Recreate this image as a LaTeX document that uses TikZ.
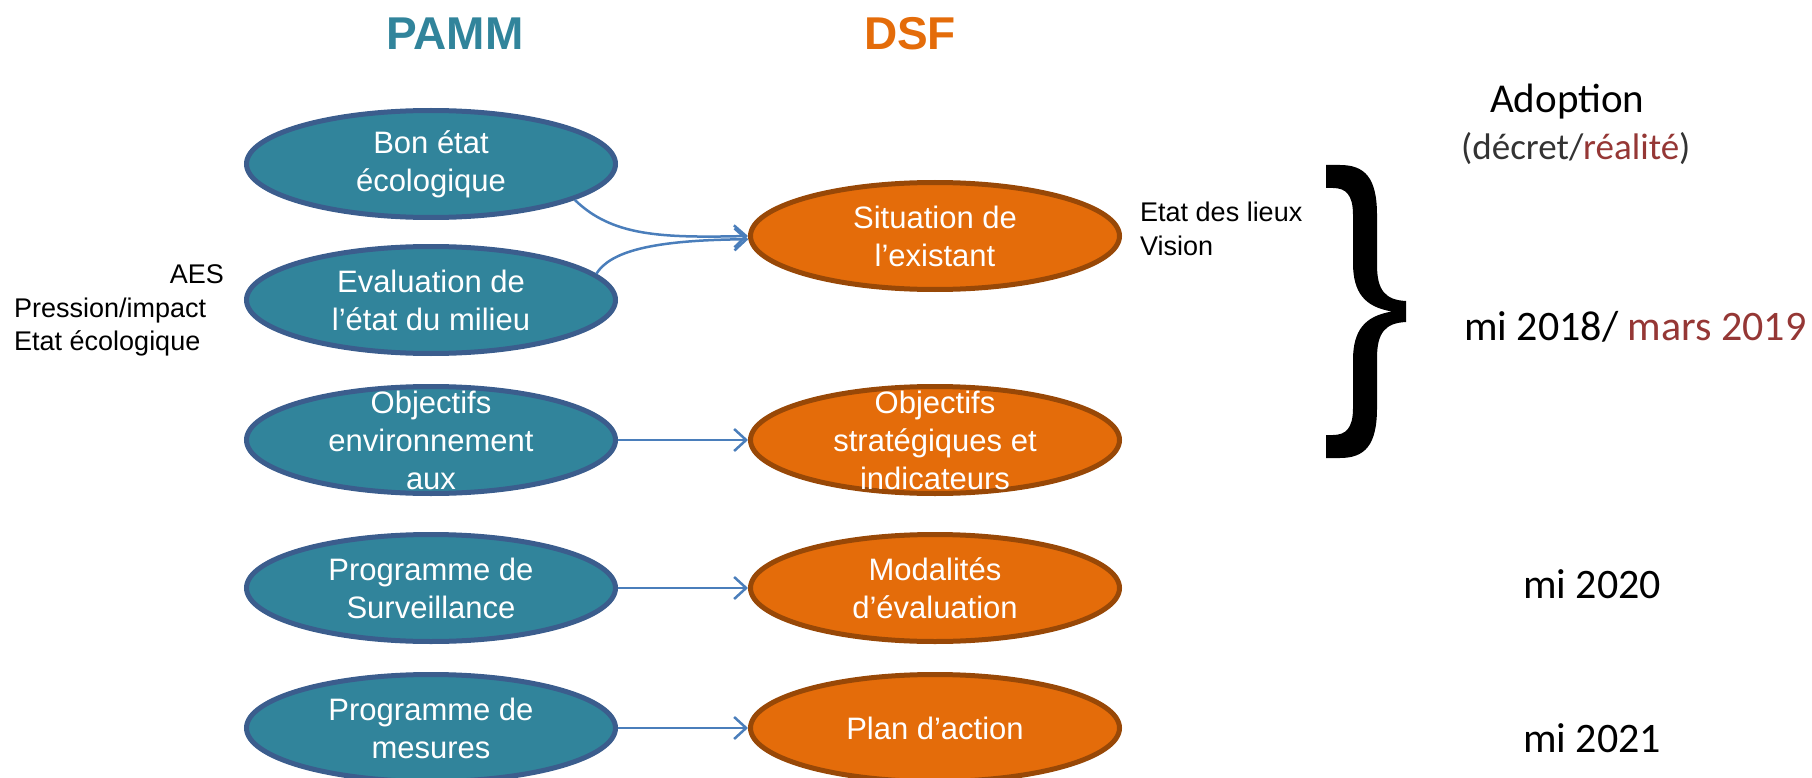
\documentclass[tikz,border=0pt]{standalone}
\usepackage{fontspec}
\setmainfont{Liberation Sans}
\newfontfamily\calib{Carlito}
\usetikzlibrary{arrows.meta,shapes.geometric}
\definecolor{teal1}{HTML}{31849B}
\definecolor{tealb}{HTML}{3B5D8D}
\definecolor{orng}{HTML}{E46C0A}
\definecolor{orngb}{HTML}{984807}
\definecolor{arr}{HTML}{4A7EBB}
\definecolor{dred}{HTML}{953735}
\begin{document}
\begin{tikzpicture}[x=1pt,y=-1pt,
 pamm/.style={ellipse, draw=tealb, fill=teal1, line width=5pt, minimum width=369pt, minimum height=107pt, inner sep=0pt},
 dsf/.style={ellipse, draw=orngb, fill=orng, line width=5pt, minimum width=369pt, minimum height=107pt, inner sep=0pt},
 etxt/.style={text=white, align=center, font=\fontsize{31}{38}\selectfont, inner sep=0pt},
 conn/.style={draw=arr, line width=2.5pt, -{Straight Barb[length=12pt,width=22pt]}},
 side/.style={font=\fontsize{27}{33}\selectfont, inner sep=0pt},
 cal/.style={font=\calib\fontsize{42}{50}\selectfont, inner sep=0pt},
 ttl/.style={font=\bfseries\fontsize{46}{50}\selectfont, inner sep=0pt}]
\useasboundingbox (0,0) rectangle (1812,778);
\clip (0,0) rectangle (1812,778);

% titles
\node[ttl, text=teal1, anchor=base] (tpamm) at (455,50) {PAMM};
\node[ttl, text=orng, anchor=base] (tdsf) at (910,50) {DSF};

% PAMM ellipses
\node[pamm, label={[etxt]center:{Bon état\\écologique}}] (bon) at (431,164) {};
\node[pamm, label={[etxt]center:{Evaluation de\\l’état du milieu}}] (eval) at (431,300) {};
\node[pamm, label={[etxt]center:{Objectifs\\environnement\\aux}}] (obj) at (431,440) {};
\node[pamm, label={[etxt]center:{Programme de\\Surveillance}}] (surv) at (431,588) {};
\node[pamm, label={[etxt]center:{Programme de\\mesures}}] (mes) at (431,728) {};

% DSF ellipses
\node[dsf, label={[etxt]center:{Situation de\\l’existant}}] (sit) at (935,236) {};
\node[dsf, label={[etxt]center:{Objectifs\\stratégiques et\\indicateurs}}] (strat) at (935,440) {};
\node[dsf, label={[etxt]center:{Modalités\\d’évaluation}}] (moda) at (935,588) {};
\node[dsf, label={[etxt]center:{Plan d’action}}] (plan) at (935,728) {};

% connectors
\draw[conn] (bon.-14) .. controls (612,236) and (660,238) .. (sit.west);
\draw[conn] (eval.9) .. controls (610,252) and (650,240) .. (sit.181.5);
\draw[conn] (obj.east) -- (strat.west);
\draw[conn] (surv.east) -- (moda.west);
\draw[conn] (mes.east) -- (plan.west);

% side texts
\node[side, anchor=base east] (aes) at (224,283) {AES};
\node[side, anchor=base west] (press) at (14,317) {Pression/impact};
\node[side, anchor=base west] (etat) at (14,350) {Etat écologique};
\node[side, anchor=base west] (edl) at (1140,222) {Etat des lieux};
\node[side, anchor=base west] (vis) at (1140,255) {Vision};

% brace
\fill[black] (1326,165) -- (1340,165) .. controls (1365,165) and (1377,178) .. (1377,215) -- (1377,265) .. controls (1377,290) and (1385,300) .. (1406,301) -- (1406,322) .. controls (1385,323) and (1377,333) .. (1377,358) -- (1377,408) .. controls (1377,445) and (1365,458) .. (1340,458) -- (1326,458) -- (1326,435) -- (1333,435) .. controls (1346,435) and (1353,428) .. (1353,408) -- (1353,360) .. controls (1353,330) and (1365,316) .. (1392,311.5) .. controls (1365,307) and (1353,293) .. (1353,263) -- (1353,215) .. controls (1353,195) and (1346,188) .. (1333,188) -- (1326,188) -- cycle;

% right column
\node[cal, font=\calib\fontsize{41}{48}\selectfont, anchor=base west] (adop) at (1490,113) {Adoption};
\node[cal, font=\calib\fontsize{37}{44}\selectfont, anchor=base west] (decr) at (1461,160) {\textcolor{black!80}{(décret/}\textcolor{dred}{réalité}\textcolor{black!80}{)}};
\node[cal, anchor=base west] (d1) at (1464,340) {mi 2018/ \textcolor{dred}{mars 2019}};
\node[cal, anchor=base west] (d2) at (1523,598) {mi 2020};
\node[cal, anchor=base west] (d3) at (1523,752) {mi 2021};
\end{tikzpicture}
\end{document}
